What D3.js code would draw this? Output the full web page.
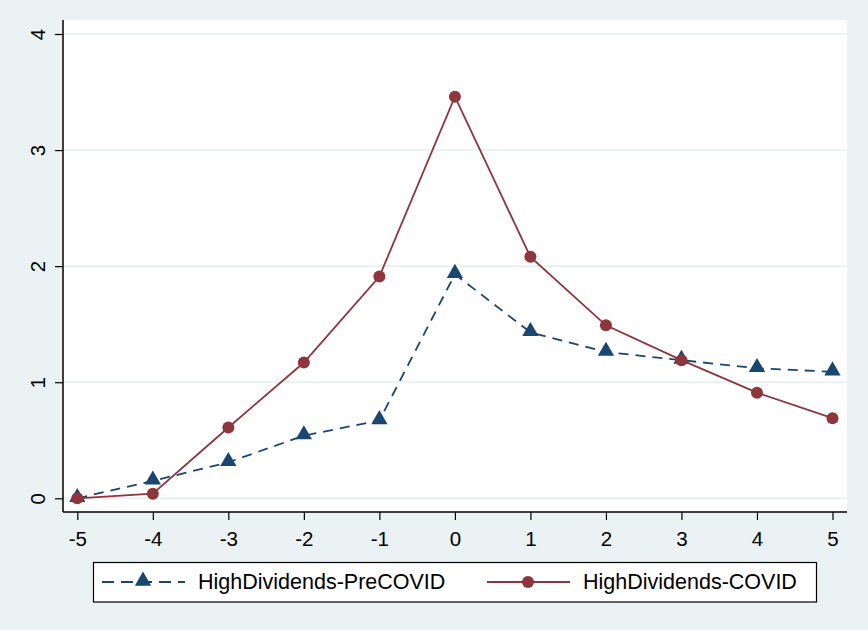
<!DOCTYPE html>
<html>
<head>
<meta charset="utf-8">
<script src="https://cdn.jsdelivr.net/npm/d3@7"></script>
<style>
  html, body { margin: 0; padding: 0; background: #EAF2F3; }
  svg { display: block; }
  text { font-family: Arial, "Liberation Sans", sans-serif; fill: #000; }
</style>
</head>
<body>
<svg id="chart" width="868" height="630"></svg>
<script>
// event-time categories on the x axis
const periods = [-5, -4, -3, -2, -1, 0, 1, 2, 3, 4, 5];
const yTicks = [0, 1, 2, 3, 4];
const preCovid = [0, 0.15, 0.31, 0.54, 0.67, 1.93, 1.43, 1.26, 1.19, 1.12, 1.09];
const covid = [0, 0.04, 0.61, 1.17, 1.91, 3.46, 2.08, 1.49, 1.19, 0.91, 0.69];
const seriesNames = ["HighDividends-PreCOVID", "HighDividends-COVID"];

const svg = d3.select("#chart");
const W = 868, H = 630;
const plot = { left: 63, right: 847, top: 20, bottom: 512 };

const x = d3.scaleLinear().domain([-5, 5]).range([77.3, 832.5]);
const y = d3.scaleLinear().domain([0, 4]).range([498.3, 34]);

// plain hyphen for negatives, like the original
const fmt = d => String(d);

svg.append("rect").attr("width", W).attr("height", H).attr("fill", "#EAF2F3");
svg.append("rect")
    .attr("x", plot.left).attr("y", plot.top)
    .attr("width", plot.right - plot.left).attr("height", plot.bottom - plot.top)
    .attr("fill", "#fff");

/* gridlines */
svg.append("g").selectAll("line").data(yTicks).join("line")
    .attr("x1", plot.left).attr("x2", plot.right)
    .attr("y1", d => y(d)).attr("y2", d => y(d))
    .attr("stroke", "#EAF2F3").attr("stroke-width", 2);

/* y axis */
const yAxis = svg.append("g").attr("transform", `translate(${plot.left},0)`)
    .call(d3.axisLeft(y).tickValues(yTicks).tickFormat(fmt).tickSize(8).tickPadding(0));
yAxis.select(".domain").attr("d", `M0,${plot.top}V${plot.bottom}`).attr("stroke", "#000").attr("stroke-width", 1.5);
yAxis.selectAll(".tick line").attr("stroke", "#000").attr("stroke-width", 1.2);
yAxis.selectAll(".tick text")
    .attr("x", null).attr("dy", null)
    .attr("transform", "translate(-26,0) rotate(-90)")
    .attr("text-anchor", "middle")
    .attr("dominant-baseline", "central")
    .style("font-size", "20.5px");

/* x axis */
const xAxis = svg.append("g").attr("transform", `translate(0,${plot.bottom})`)
    .call(d3.axisBottom(x).tickValues(periods).tickFormat(fmt).tickSize(8).tickPadding(11));
xAxis.select(".domain").attr("d", `M${plot.left},0H${plot.right}`).attr("stroke", "#000").attr("stroke-width", 1.5);
xAxis.selectAll(".tick line").attr("stroke", "#000").attr("stroke-width", 1.2);
xAxis.selectAll(".tick text").style("font-size", "20.5px");

const line = d3.line().x((d, i) => x(periods[i])).y(d => y(d));

// PreCOVID: dashed navy with triangles
svg.append("path").datum(preCovid)
    .attr("d", line).attr("fill", "none")
    .attr("stroke", "#1A476F").attr("stroke-width", 1.8)
    .attr("stroke-dasharray", "10,7");
const tri = d3.symbol().type(d3.symbolTriangle).size(115);
svg.append("g").selectAll("path").data(preCovid).join("path")
    .attr("d", tri)
    .attr("transform", (d, i) => `translate(${x(periods[i])},${y(d) - 1})`)
    .attr("fill", "#1A476F");

// COVID: solid maroon with circles
svg.append("path").datum(covid)
    .attr("d", line).attr("fill", "none")
    .attr("stroke", "#90353B").attr("stroke-width", 1.8);
svg.append("g").selectAll("circle").data(covid).join("circle")
    .attr("cx", (d, i) => x(periods[i])).attr("cy", d => y(d))
    .attr("r", 6).attr("fill", "#90353B");

/* legend */
const lg = svg.append("g");
lg.append("rect").attr("x", 93.5).attr("y", 562.5).attr("width", 723).attr("height", 39.5)
    .attr("fill", "#fff").attr("stroke", "#000").attr("stroke-width", 1.2);
const ly = 582;
lg.append("line").attr("x1", 102).attr("x2", 185).attr("y1", ly).attr("y2", ly)
    .attr("stroke", "#1A476F").attr("stroke-width", 1.8).attr("stroke-dasharray", "12,7");
lg.append("path").attr("d", tri).attr("transform", `translate(143,${ly - 1})`).attr("fill", "#1A476F");
lg.append("text").attr("x", 198).attr("y", ly).attr("dominant-baseline", "central")
    .style("font-size", "21.5px").text(seriesNames[0]);
lg.append("line").attr("x1", 487).attr("x2", 570).attr("y1", ly).attr("y2", ly)
    .attr("stroke", "#90353B").attr("stroke-width", 1.8);
lg.append("circle").attr("cx", 528).attr("cy", ly).attr("r", 6).attr("fill", "#90353B");
lg.append("text").attr("x", 583).attr("y", ly).attr("dominant-baseline", "central")
    .style("font-size", "21.5px").text(seriesNames[1]);
</script>
</body>
</html>
